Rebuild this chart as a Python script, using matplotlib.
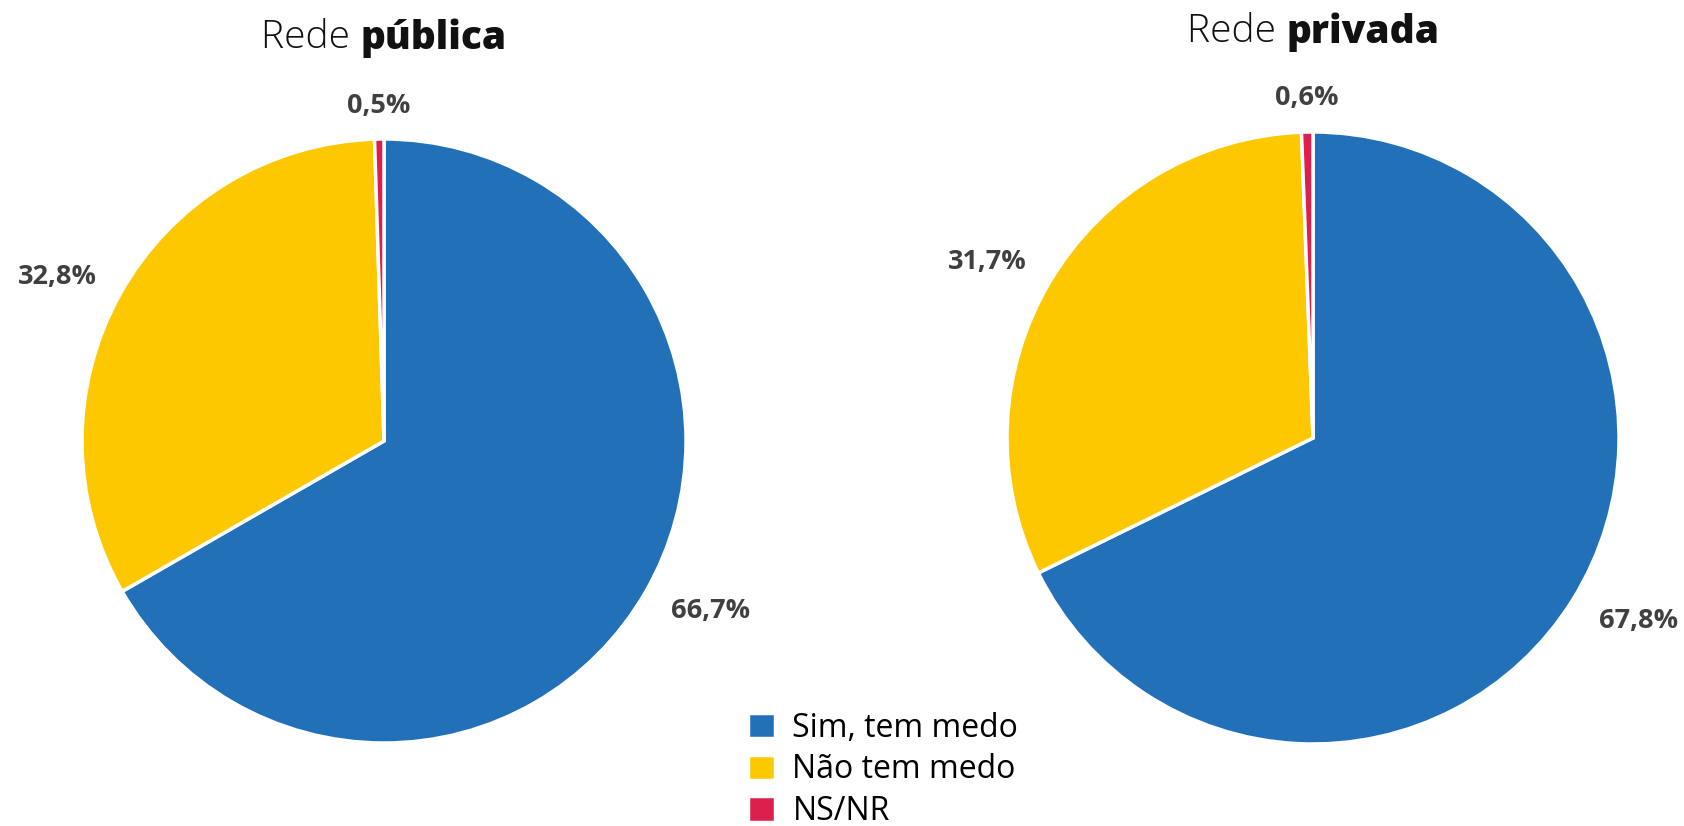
import matplotlib.pyplot as plt
import numpy as np

categorias = ["Sim, tem medo", "Não tem medo", "NS/NR"]
cores = ["#2170B8", "#FDC800", "#DC1F4D"]
publica = [66.7, 32.8, 0.5]
privada = [67.8, 31.7, 0.6]
rotulos_publica = ["66,7%", "32,8%", "0,5%"]
rotulos_privada = ["67,8%", "31,7%", "0,6%"]

plt.rcParams['font.family'] = ['Open Sans', 'DejaVu Sans']

W, H = 1684, 826
fig = plt.figure(figsize=(W / 100, H / 100), dpi=100)


def eixo(cx, cy, r):
    # cx, cy, r em pixels (origem no canto superior esquerdo)
    return fig.add_axes([(cx - r) / W, (H - cy - r) / H, 2 * r / W, 2 * r / H])


def desenha_pizza(ax, valores, rotulos, dist, giro):
    wedges, _ = ax.pie(valores, colors=cores, startangle=90, counterclock=False,
                       wedgeprops=dict(edgecolor="white", linewidth=2.5))
    ax.set_xlim(-1, 1)
    ax.set_ylim(-1, 1)
    ax.set_aspect("equal")
    ax.axis("off")
    for w, txt, d, g in zip(wedges, rotulos, dist, giro):
        # rotulos um pouco girados, como no original
        ang = np.deg2rad((w.theta1 + w.theta2) / 2 + g)
        ax.text(d * np.cos(ang), d * np.sin(ang), txt, ha="center", va="center",
                fontsize=19.5, fontweight="bold", color="#404040")
    return wedges


def titulo(x, y, parte1, parte2):
    t1 = fig.text(0, 0, parte1, fontsize=28, fontweight="light", color="#111111")
    t2 = fig.text(0, 0, parte2, fontsize=28, fontweight="heavy", color="#111111")
    fig.canvas.draw()
    r = fig.canvas.get_renderer()
    w1 = t1.get_window_extent(r).width
    w2 = t2.get_window_extent(r).width
    x0 = x - (w1 + w2) / 2
    t1.set_position((x0 / W, (H - y) / H))
    t2.set_position(((x0 + w1) / W, (H - y) / H))
    t1.set_va("center")
    t2.set_va("center")


ax1 = eixo(384, 441, 302)
wedges = desenha_pizza(ax1, publica, rotulos_publica, [1.22, 1.21, 1.11], [2.5, 2.5, 0])
ax2 = eixo(1313, 438, 306)
desenha_pizza(ax2, privada, rotulos_privada, [1.22, 1.21, 1.11], [2.5, 2.5, 0])

titulo(384, 38, "Rede ", "pública")
titulo(1313, 32, "Rede ", "privada")

fig.legend(wedges, categorias, loc="upper left", bbox_to_anchor=(735 / W, 1 - 699 / H),
           frameon=False, fontsize=23, handlelength=0.85, handleheight=0.85,
           handletextpad=0.55, labelspacing=0.27, borderaxespad=0)

fig.savefig("out.png", dpi=100)
